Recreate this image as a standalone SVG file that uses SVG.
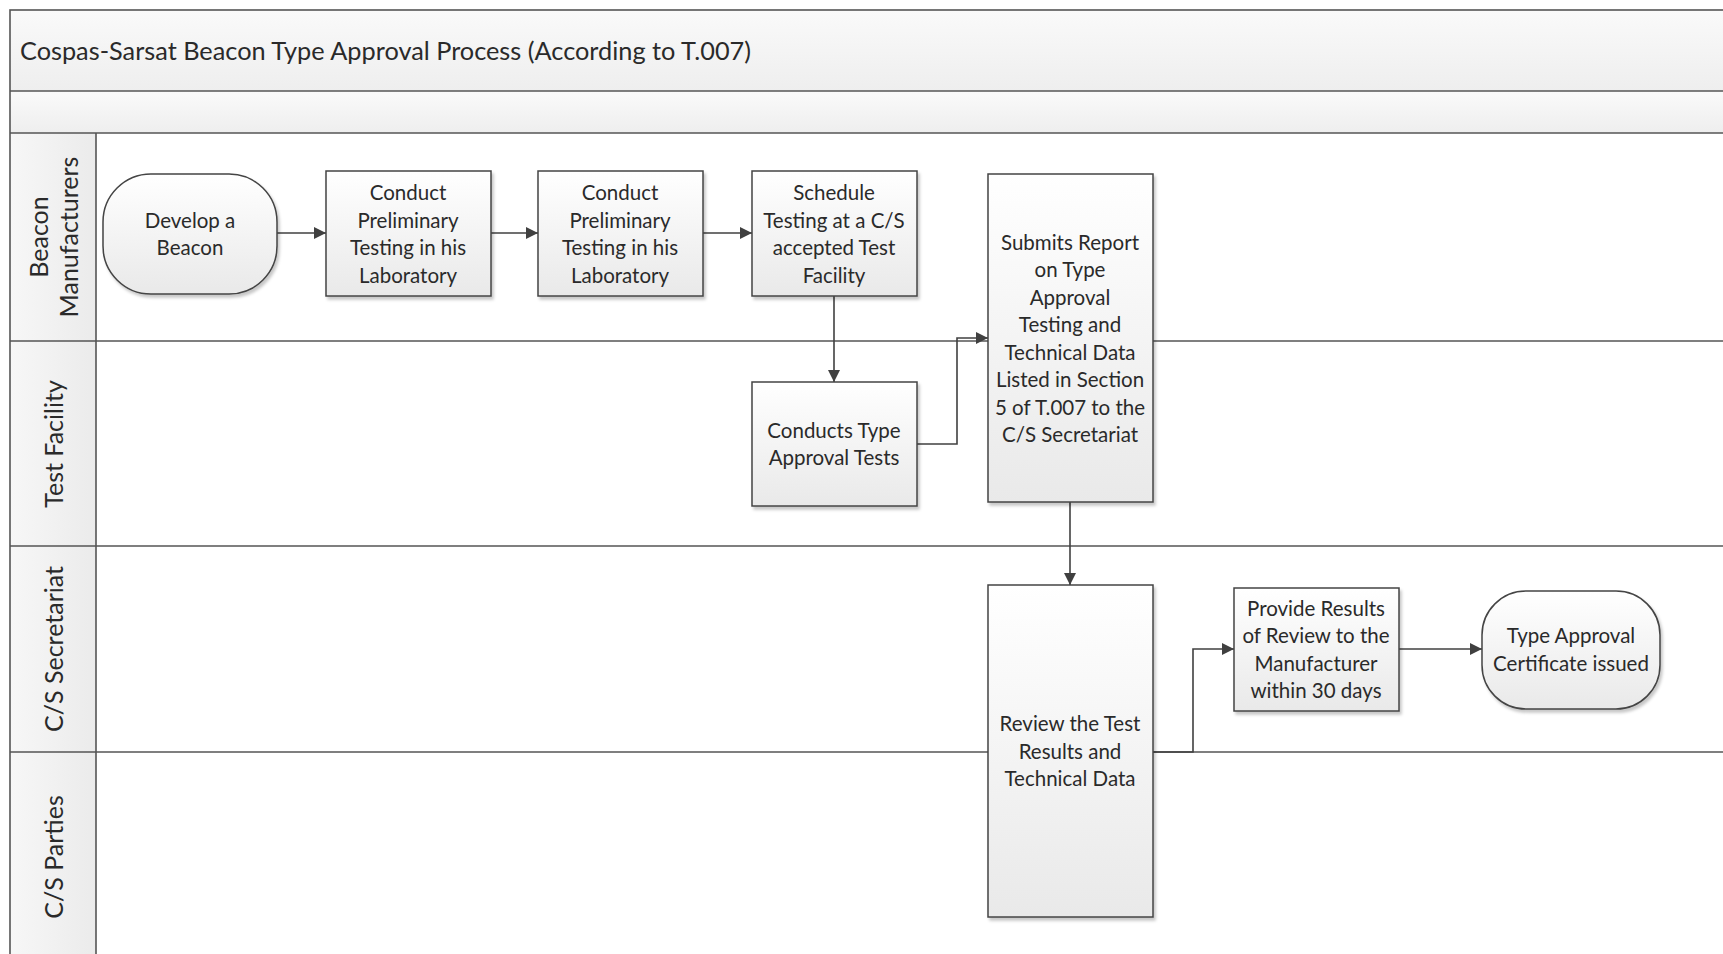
<svg xmlns="http://www.w3.org/2000/svg" width="1723" height="954" viewBox="0 0 1723 954">
<defs>
<linearGradient id="gBox" x1="0" y1="0" x2="0" y2="1"><stop offset="0" stop-color="#ffffff"/><stop offset="1" stop-color="#e9e9e9"/></linearGradient>
<linearGradient id="gHead" x1="0" y1="0" x2="0" y2="1"><stop offset="0" stop-color="#fafafa"/><stop offset="1" stop-color="#eeeeee"/></linearGradient>
<linearGradient id="gLane" x1="0" y1="0" x2="1" y2="0"><stop offset="0" stop-color="#f7f7f7"/><stop offset="1" stop-color="#ebebeb"/></linearGradient>
<filter id="sh" x="-10%" y="-10%" width="130%" height="130%"><feDropShadow dx="2" dy="3" stdDeviation="1.5" flood-color="#000" flood-opacity="0.22"/></filter>
<marker id="arr" viewBox="0 0 12 12" refX="12" refY="6" markerWidth="12" markerHeight="12" markerUnits="userSpaceOnUse" orient="auto"><path d="M0,0 L12,6 L0,12 z" fill="#404040"/></marker>
<style>
.frame{fill:none;stroke:#555;stroke-width:1.6}
.ln{stroke:#555;stroke-width:1.6;fill:none}
.node{fill:url(#gBox);stroke:#444;stroke-width:1.5;filter:url(#sh)}
.t{font-family:Lato,"Open Sans",sans-serif;font-size:20.5px;fill:#2a2a2a;text-anchor:middle;dominant-baseline:central}
.lane{font-family:Lato,"Open Sans",sans-serif;font-size:25px;fill:#2a2a2a;text-anchor:middle;dominant-baseline:central}
.title{font-family:Lato,"Open Sans",sans-serif;font-size:25.3px;fill:#2a2a2a;dominant-baseline:central}
.c{stroke:#404040;stroke-width:1.6;fill:none;marker-end:url(#arr)}
</style>
</defs>
<rect width="1723" height="954" fill="#ffffff"/>
<g id="pool">
<rect x="10" y="10" width="1730" height="81" fill="url(#gHead)"/>
<rect x="10" y="91" width="1730" height="42" fill="url(#gHead)"/>
<rect x="10" y="133" width="86" height="830" fill="url(#gLane)"/>
<rect x="10" y="10" width="1730" height="960" class="frame"/>
<line x1="10" y1="91" x2="1723" y2="91" class="ln"/>
<line x1="10" y1="133" x2="1723" y2="133" class="ln"/>
<line x1="10" y1="341" x2="1723" y2="341" class="ln"/>
<line x1="10" y1="546" x2="1723" y2="546" class="ln"/>
<line x1="10" y1="752" x2="1723" y2="752" class="ln"/>
<line x1="96" y1="133" x2="96" y2="954" class="ln"/>
<text class="title" x="20" y="50">Cospas-Sarsat Beacon Type Approval Process (According to T.007)</text>
<text class="lane" transform="translate(53,237) rotate(-90)"><tspan x="0" dy="-15">Beacon</tspan><tspan x="0" dy="30">Manufacturers</tspan></text>
<text class="lane" transform="translate(53,444) rotate(-90)">Test Facility</text>
<text class="lane" transform="translate(53,649) rotate(-90)">C/S Secretariat</text>
<text class="lane" transform="translate(53,857) rotate(-90)">C/S Parties</text>
</g>
<g id="connectors">
<path class="c" d="M277,233 L326,233"/>
<path class="c" d="M491,233 L538,233"/>
<path class="c" d="M703,233 L752,233"/>
<path class="c" d="M834,296 L834,382"/>
<path class="c" d="M917,444 L957,444 L957,338 L988,338"/>
<path class="c" d="M1070,502 L1070,585"/>
<path class="c" d="M1153,752 L1193,752 L1193,649 L1234,649"/>
<path class="c" d="M1399,649 L1482,649"/>
</g>
<g id="n1">
<rect class="node" x="103" y="174" width="174" height="120" rx="48" ry="48"/>
<text class="t" x="190"><tspan x="190" y="220">Develop a</tspan><tspan x="190" y="247">Beacon</tspan></text>
</g>
<g id="n2">
<rect class="node" x="326" y="171" width="165" height="125"/>
<text class="t"><tspan x="408" y="192">Conduct</tspan><tspan x="408" y="220">Preliminary</tspan><tspan x="408" y="247">Testing in his</tspan><tspan x="408" y="275">Laboratory</tspan></text>
</g>
<g id="n3">
<rect class="node" x="538" y="171" width="165" height="125"/>
<text class="t"><tspan x="620" y="192">Conduct</tspan><tspan x="620" y="220">Preliminary</tspan><tspan x="620" y="247">Testing in his</tspan><tspan x="620" y="275">Laboratory</tspan></text>
</g>
<g id="n4">
<rect class="node" x="752" y="171" width="165" height="125"/>
<text class="t"><tspan x="834" y="192">Schedule</tspan><tspan x="834" y="220">Testing at a C/S</tspan><tspan x="834" y="247">accepted Test</tspan><tspan x="834" y="275">Facility</tspan></text>
</g>
<g id="n5">
<rect class="node" x="752" y="382" width="165" height="124"/>
<text class="t"><tspan x="834" y="430">Conducts Type</tspan><tspan x="834" y="457">Approval Tests</tspan></text>
</g>
<g id="n6">
<rect class="node" x="988" y="174" width="165" height="328"/>
<text class="t"><tspan x="1070" y="242">Submits Report</tspan><tspan x="1070" y="269">on Type</tspan><tspan x="1070" y="297">Approval</tspan><tspan x="1070" y="324">Testing and</tspan><tspan x="1070" y="352">Technical Data</tspan><tspan x="1070" y="379">Listed in Section</tspan><tspan x="1070" y="407">5 of T.007 to the</tspan><tspan x="1070" y="434">C/S Secretariat</tspan></text>
</g>
<g id="n7">
<rect class="node" x="988" y="585" width="165" height="332"/>
<text class="t"><tspan x="1070" y="723">Review the Test</tspan><tspan x="1070" y="751">Results and</tspan><tspan x="1070" y="778">Technical Data</tspan></text>
</g>
<g id="n8">
<rect class="node" x="1234" y="588" width="165" height="123"/>
<text class="t"><tspan x="1316" y="608">Provide Results</tspan><tspan x="1316" y="635">of Review to the</tspan><tspan x="1316" y="663">Manufacturer</tspan><tspan x="1316" y="690">within 30 days</tspan></text>
</g>
<g id="n9">
<rect class="node" x="1482" y="591" width="178" height="118" rx="44" ry="44"/>
<text class="t"><tspan x="1571" y="635">Type Approval</tspan><tspan x="1571" y="663">Certificate issued</tspan></text>
</g>
</svg>
